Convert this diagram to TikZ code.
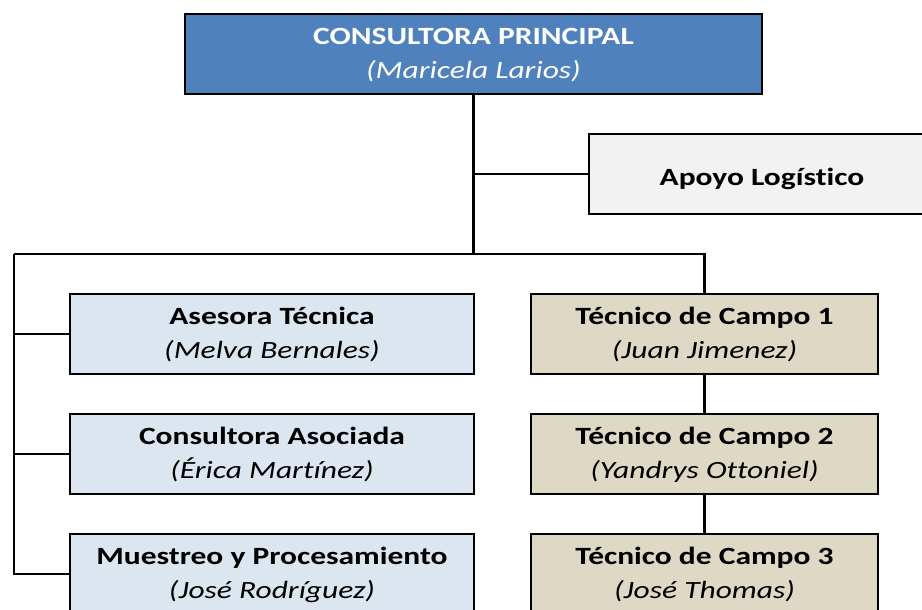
\documentclass[tikz,border=0pt]{standalone}
\usepackage{fontspec}
\setmainfont{Carlito}[FakeStretch=1.27,Ligatures=NoCommon]
\usepackage{tikz}

\definecolor{jefe}{HTML}{4F81BD}
\definecolor{celeste}{HTML}{DCE6F1}
\definecolor{arena}{HTML}{DDD9C4}
\definecolor{gris}{HTML}{F2F2F2}

% cargo en negrita, nombre en cursiva
\newcommand{\cargo}[2]{\rule{0pt}{21.5pt}\textbf{#1}\\\textit{#2}\rule[-7pt]{0pt}{7pt}}

\begin{document}
\begin{tikzpicture}[x=1pt,y=-1pt,
        caja/.style={draw=black,line width=2.6pt,minimum width=404pt,minimum height=80pt,
            align=center,inner sep=0pt,font=\fontsize{24.8}{33.5}\selectfont},
        campo/.style={caja,fill=arena,minimum width=347pt},
        linea/.style={line width=2.2pt}]
            \useasboundingbox (0,0) rectangle (922,610);
            \clip (0,0) rectangle (922,610);
            % cajas
            \node[caja,fill=jefe,text=white,minimum width=577pt] (cp) at (473.5,54)
                {\cargo{CONSULTORA PRINCIPAL}{(Maricela Larios)}};
            \node[caja,fill=gris,minimum width=346pt] (al) at (762,174) {\rule{0pt}{27pt}\textbf{Apoyo Log\'istico}};
            \node[caja,fill=celeste] (at) at (272,334) {\cargo{Asesora T\'ecnica}{(Melva Bernales)}};
            \node[caja,fill=celeste] (ca) at (272,454) {\cargo{Consultora Asociada}{(\'Erica Mart\'inez)}};
            \node[caja,fill=celeste] (mp) at (272,574) {\cargo{Muestreo y Procesamiento}{(Jos\'e Rodr\'iguez)}};
            \node[campo] (tc1) at (704.5,334) {\cargo{T\'ecnico de Campo 1}{(Juan Jimenez)}};
            \node[campo] (tc2) at (704.5,454) {\cargo{T\'ecnico de Campo 2}{(Yandrys Ottoniel)}};
            \node[campo] (tc3) at (704.5,574) {\cargo{T\'ecnico de Campo 3}{(Jos\'e Thomas)}};
            % conectores
            \coordinate (bus) at (473.5,254);
            \coordinate (busL) at (14,254);
            \coordinate (busR) at (704.5,254);
            \draw[linea] (cp.south) -- (bus);
            \draw[linea] (cp.south |- al.west) -- (al.west);
            \draw[linea] (busL) -- (busR) -- (tc1.north);
            \draw[linea] (busL) |- (mp.west);
            \draw[linea] (busL |- at.west) -- (at.west);
            \draw[linea] (busL |- ca.west) -- (ca.west);
            \draw[linea] (tc1.south) -- (tc2.north);
            \draw[linea] (tc2.south) -- (tc3.north);
        \end{tikzpicture}
\end{document}
